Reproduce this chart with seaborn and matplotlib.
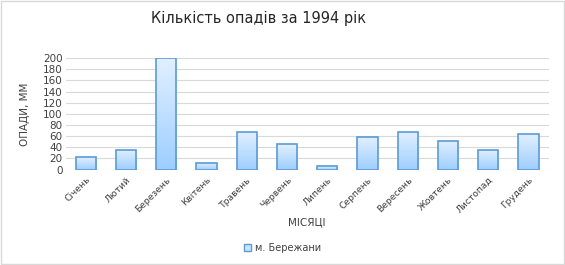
import numpy as np
import pandas as pd
import matplotlib
matplotlib.use("Agg")
import matplotlib.pyplot as plt
import seaborn as sns
from matplotlib.patches import Rectangle

months = ["Січень", "Лютий", "Березень", "Квітень", "Травень", "Червень",
          "Липень", "Серпень", "Вересень", "Жовтень", "Листопад", "Грудень"]
values = [23, 36, 200, 12, 68, 46, 7, 58, 67, 52, 36, 63]
series_name = "м. Бережани"
yticks = [0, 20, 40, 60, 80, 100, 120, 140, 160, 180, 200]

sns.set_theme(style="white")
plt.rcParams['font.family'] = ['DejaVu Sans']

df = pd.DataFrame({"month": months, "value": values})

fig = plt.figure(figsize=(5.65, 2.65), dpi=100)
ax = fig.add_axes([0.116, 0.36, 0.855, 0.421])

sns.barplot(data=df, x="month", y="value", ax=ax, width=0.5,
            color="#cce5ff", edgecolor="#5b9bd5", linewidth=1.2, zorder=2)

# gradient fill inside bars
grad = np.linspace(0, 1, 256).reshape(-1, 1)
cmap = matplotlib.colors.LinearSegmentedColormap.from_list("g", ["#9dceff", "#e2f0ff"])
for p in ax.patches:
    x0, y0 = p.get_x(), p.get_y()
    w, h = p.get_width(), p.get_height()
    im = ax.imshow(grad, extent=[x0, x0 + w, y0, y0 + h], origin="lower",
                   cmap=cmap, aspect="auto", zorder=2.5)
    im.set_clip_path(p)
    p.set_facecolor("none")
    p.set_zorder(3)
ax.set_xlim(-0.5, len(months) - 0.5)
ax.set_ylim(0, 200)

ax.set_yticks(yticks)
ax.set_yticklabels([str(t) for t in yticks], fontsize=7.5, color="#404040")
ax.yaxis.grid(True, color="#d9d9d9", linewidth=0.8, zorder=0)
ax.set_axisbelow(True)
for s in ax.spines.values():
    s.set_visible(False)
ax.tick_params(axis="y", length=0, pad=2)
ax.tick_params(axis="x", length=0, pad=4)
ax.set_xticks(range(len(months)))
ax.set_xticklabels(months, rotation=45, ha="right", rotation_mode="anchor",
                   fontsize=6.6, color="#404040")
ax.set_xlabel("МІСЯЦІ", fontsize=7.5, color="#404040", va="center")
ax.xaxis.set_label_coords(0.5, -0.47)
ax.set_ylabel("ОПАДИ, ММ", fontsize=7.5, color="#404040", va="center")
ax.yaxis.set_label_coords(-0.084, 0.5)

fig.suptitle("Кількість опадів за 1994 рік", x=0.458, y=0.93, va="center",
             fontsize=10.5, color="#262626")

handle = Rectangle((0, 0), 1, 1, facecolor="#cce5ff", edgecolor="#5b9bd5", linewidth=1)
fig.legend([handle], [series_name], loc="center", bbox_to_anchor=(0.5, 0.065),
           frameon=False, fontsize=7, handlelength=0.8, handleheight=0.8,
           handletextpad=0.4, labelcolor="#404040")

border = Rectangle((0.001, 0.002), 0.997, 0.995, transform=fig.transFigure,
                   fill=False, edgecolor="#d9d9d9", linewidth=1)
fig.patches.append(border)

fig.savefig("out.png", dpi=100)
